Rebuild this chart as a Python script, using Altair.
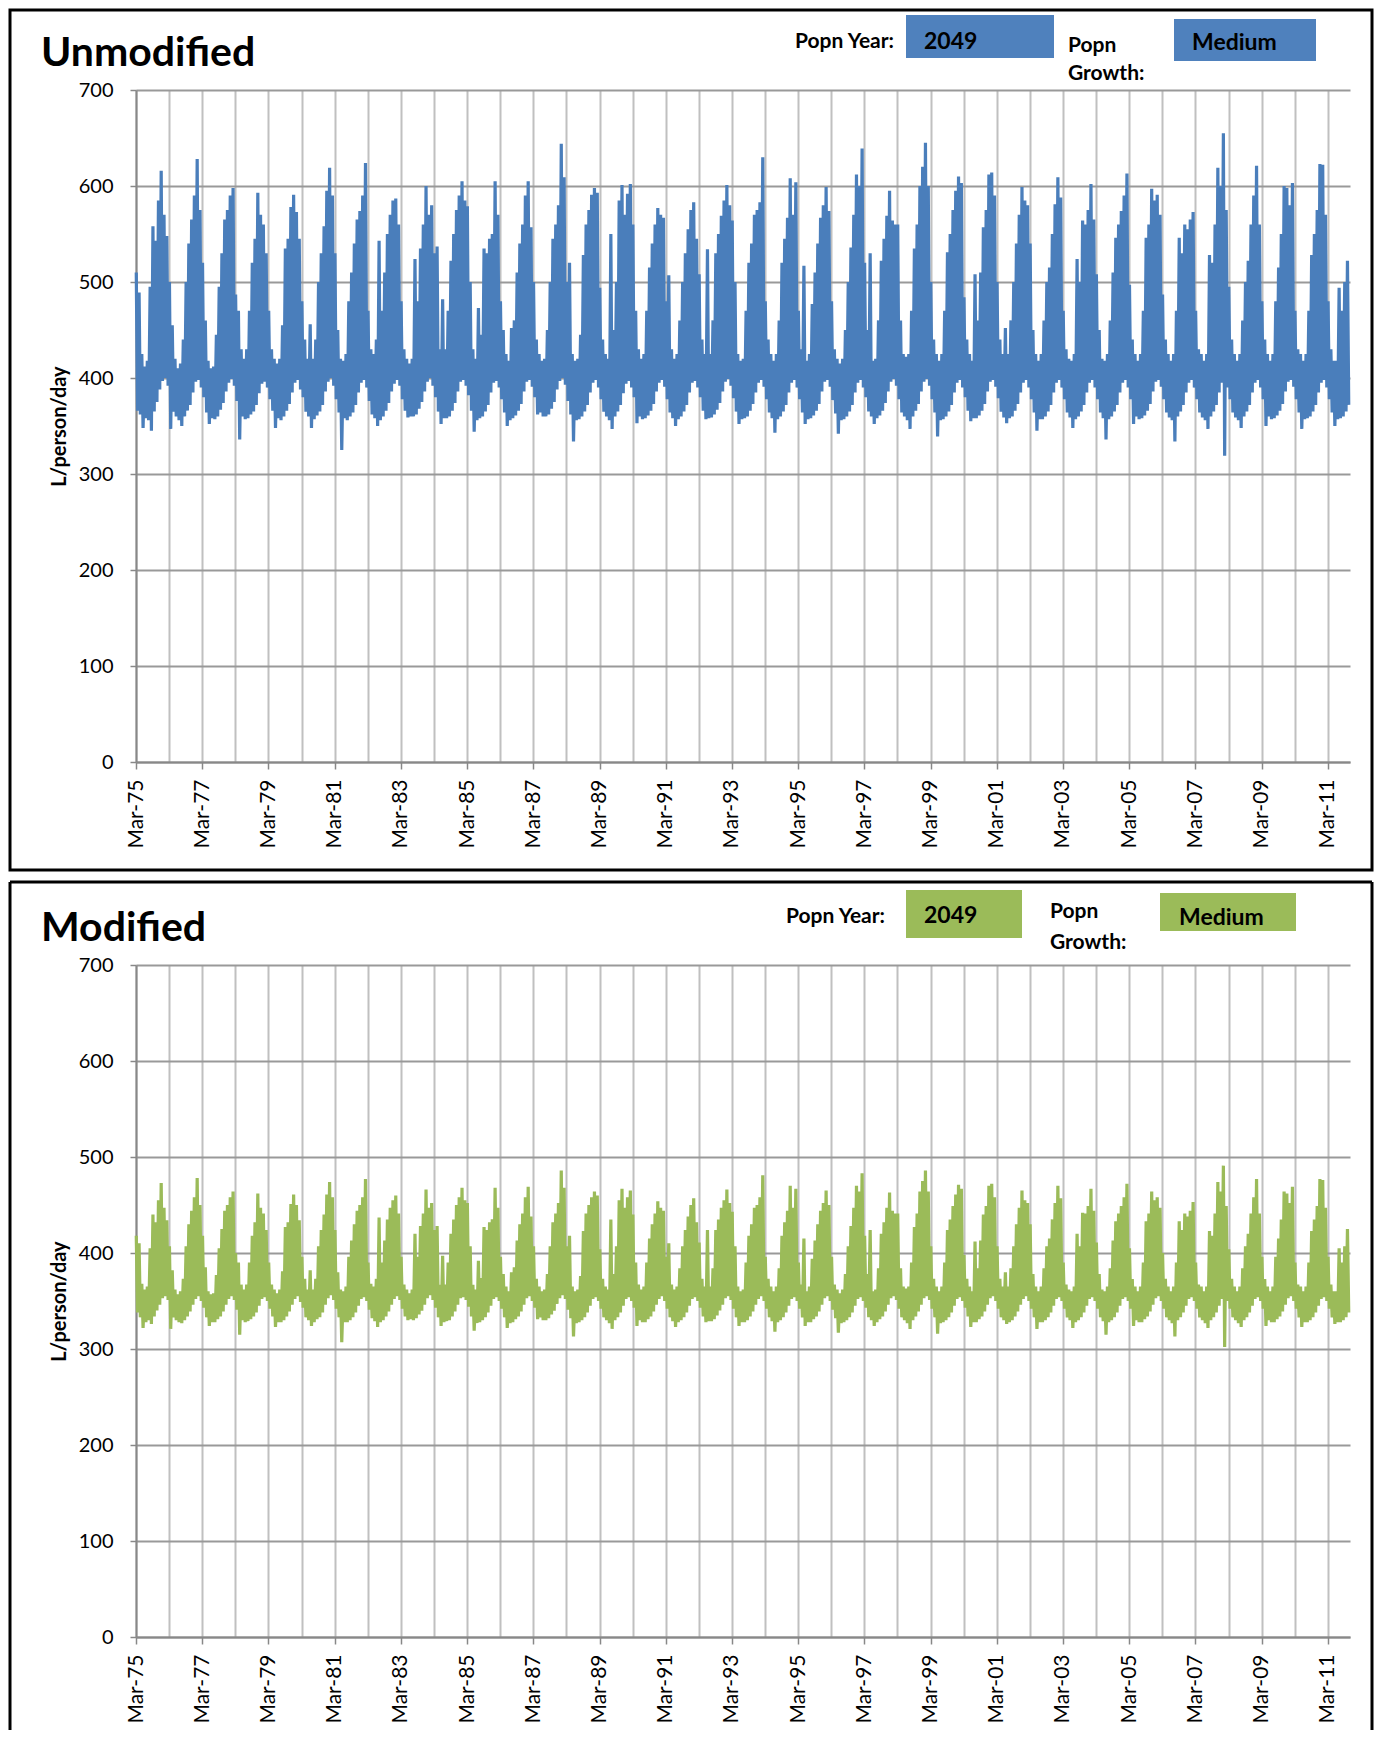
import altair as alt
import pandas as pd

FONT = "Lato"
BLUE = "#4A7EBB"
BLUE_BOX = "#4F81BD"
GREEN = "#9BBB59"

YEARS = list(range(1975, 2012))
Y_TICKS = [0, 100, 200, 300, 400, 500, 600, 700]

# Monthly envelope: each row is one season Mar..Feb
UNMOD_MAX = [
    [510, 489, 425, 412, 418, 495, 558, 543, 585, 616, 570, 548],
    [500, 455, 420, 410, 415, 440, 500, 540, 565, 590, 628, 575],
    [520, 460, 418, 410, 412, 445, 495, 530, 565, 575, 590, 598],
    [487, 470, 430, 420, 430, 470, 520, 545, 593, 570, 560, 530],
    [470, 430, 420, 415, 420, 455, 535, 545, 578, 591, 573, 545],
    [480, 440, 420, 456, 420, 440, 500, 530, 558, 595, 619, 590],
    [530, 450, 420, 418, 425, 480, 510, 540, 565, 574, 590, 624],
    [470, 430, 425, 440, 543, 470, 510, 550, 570, 585, 587, 560],
    [480, 430, 420, 415, 420, 524, 480, 535, 560, 600, 570, 580],
    [530, 537, 430, 482, 430, 470, 522, 550, 575, 590, 605, 585],
    [579, 500, 430, 420, 473, 445, 535, 530, 545, 550, 605, 570],
    [480, 450, 425, 418, 452, 460, 510, 540, 560, 590, 605, 557],
    [500, 440, 425, 418, 420, 450, 500, 545, 560, 580, 644, 609],
    [500, 520, 425, 418, 420, 445, 528, 560, 575, 591, 598, 593],
    [494, 440, 425, 420, 550, 450, 500, 585, 601, 570, 592, 602],
    [560, 470, 430, 420, 425, 470, 515, 540, 560, 577, 570, 567],
    [480, 507, 430, 420, 425, 460, 500, 530, 555, 575, 583, 545],
    [508, 440, 425, 534, 425, 460, 530, 550, 569, 585, 601, 580],
    [564, 500, 425, 418, 420, 470, 520, 540, 570, 575, 583, 630],
    [480, 440, 425, 418, 425, 460, 520, 545, 567, 608, 570, 604],
    [470, 430, 517, 418, 425, 477, 510, 540, 567, 580, 599, 574],
    [480, 430, 420, 415, 420, 450, 500, 536, 570, 612, 600, 639],
    [520, 450, 530, 418, 420, 460, 522, 545, 569, 595, 564, 560],
    [560, 460, 425, 422, 425, 470, 535, 560, 600, 620, 645, 600],
    [500, 440, 425, 418, 425, 470, 531, 550, 575, 595, 610, 603],
    [484, 440, 425, 418, 508, 460, 510, 557, 575, 612, 614, 590],
    [500, 440, 425, 452, 425, 460, 500, 540, 570, 599, 585, 580],
    [540, 450, 425, 418, 425, 460, 500, 515, 550, 581, 609, 588],
    [470, 430, 420, 418, 425, 524, 500, 564, 560, 575, 602, 565],
    [508, 450, 420, 418, 425, 460, 510, 546, 560, 574, 590, 613],
    [497, 440, 425, 418, 425, 470, 546, 560, 597, 585, 591, 570],
    [487, 440, 425, 418, 425, 470, 546, 530, 560, 555, 565, 573],
    [470, 430, 425, 418, 425, 528, 520, 560, 619, 600, 655, 575],
    [495, 440, 425, 418, 425, 460, 500, 522, 560, 590, 621, 560],
    [480, 440, 425, 418, 425, 480, 515, 550, 600, 598, 580, 603],
    [470, 430, 425, 418, 425, 470, 528, 550, 575, 623, 622, 570],
    [480, 430, 418, 418, 494, 470, 500, 522],
]
UNMOD_MIN = [
    [366, 362, 348, 358, 356, 345, 365, 375, 388, 397, 400, 392],
    [347, 365, 360, 356, 350, 360, 366, 372, 385, 396, 398, 390],
    [380, 364, 352, 358, 357, 360, 367, 374, 386, 395, 399, 392],
    [376, 336, 360, 357, 358, 362, 365, 372, 384, 394, 396, 390],
    [378, 366, 348, 358, 356, 360, 366, 373, 385, 395, 398, 388],
    [380, 365, 360, 348, 357, 361, 365, 372, 386, 396, 400, 392],
    [378, 364, 325, 358, 356, 360, 364, 372, 385, 395, 398, 390],
    [376, 362, 358, 350, 356, 360, 366, 374, 386, 394, 398, 392],
    [378, 366, 359, 360, 360, 362, 368, 375, 386, 396, 400, 392],
    [380, 365, 352, 358, 358, 360, 366, 374, 386, 396, 398, 392],
    [382, 366, 344, 356, 358, 360, 365, 372, 385, 395, 397, 390],
    [378, 364, 350, 356, 358, 361, 366, 373, 386, 396, 398, 391],
    [380, 362, 364, 360, 360, 362, 368, 375, 388, 397, 400, 393],
    [376, 362, 334, 356, 357, 360, 365, 372, 385, 395, 398, 390],
    [378, 365, 360, 356, 347, 360, 365, 372, 384, 394, 397, 390],
    [380, 353, 360, 357, 358, 361, 366, 373, 386, 395, 398, 391],
    [378, 364, 358, 350, 357, 360, 365, 372, 385, 395, 397, 390],
    [380, 366, 357, 358, 359, 362, 367, 374, 386, 396, 399, 392],
    [379, 365, 352, 357, 358, 360, 366, 373, 385, 395, 398, 391],
    [378, 364, 358, 343, 357, 360, 365, 372, 385, 395, 398, 390],
    [378, 364, 352, 357, 358, 361, 366, 373, 386, 396, 398, 391],
    [377, 363, 342, 356, 357, 360, 365, 372, 385, 395, 398, 390],
    [380, 365, 360, 352, 358, 361, 366, 374, 386, 396, 399, 392],
    [378, 364, 360, 356, 347, 360, 366, 373, 386, 396, 399, 392],
    [378, 364, 339, 356, 357, 360, 365, 372, 385, 395, 398, 390],
    [380, 366, 355, 358, 358, 361, 366, 373, 386, 396, 398, 391],
    [379, 365, 359, 353, 358, 360, 366, 373, 385, 395, 398, 390],
    [378, 364, 345, 357, 357, 360, 365, 372, 385, 395, 398, 390],
    [378, 364, 359, 348, 357, 360, 365, 372, 385, 395, 398, 390],
    [378, 364, 358, 336, 357, 360, 365, 372, 385, 395, 398, 390],
    [378, 352, 360, 357, 358, 361, 366, 373, 386, 396, 398, 391],
    [378, 364, 359, 356, 334, 360, 365, 372, 385, 395, 398, 390],
    [378, 364, 359, 356, 347, 360, 365, 372, 385, 395, 319, 390],
    [378, 364, 359, 356, 348, 360, 365, 372, 385, 395, 398, 390],
    [378, 350, 360, 357, 358, 361, 366, 373, 386, 396, 398, 391],
    [378, 364, 347, 357, 358, 360, 365, 372, 385, 395, 398, 390],
    [378, 364, 350, 357, 358, 360, 365, 372],
]
MOD_MAX = [
    [418, 410, 368, 362, 365, 405, 440, 432, 455, 473, 447, 434],
    [407, 382, 362, 357, 360, 373, 407, 430, 444, 458, 478, 450],
    [418, 385, 360, 357, 358, 377, 405, 425, 444, 450, 458, 464],
    [400, 390, 367, 362, 367, 390, 418, 432, 462, 447, 441, 424],
    [390, 367, 362, 358, 362, 381, 427, 432, 451, 461, 450, 434],
    [396, 373, 362, 382, 362, 373, 407, 424, 440, 461, 474, 458],
    [424, 380, 362, 360, 365, 396, 413, 430, 444, 450, 458, 477],
    [390, 368, 365, 373, 437, 390, 413, 435, 447, 455, 460, 441],
    [396, 367, 362, 358, 362, 420, 396, 428, 441, 466, 447, 452],
    [424, 428, 367, 397, 367, 390, 420, 435, 450, 458, 468, 455],
    [452, 407, 367, 362, 392, 374, 427, 424, 432, 435, 468, 447],
    [396, 378, 365, 360, 380, 385, 413, 430, 441, 458, 469, 438],
    [407, 373, 365, 360, 362, 378, 407, 432, 441, 452, 486, 468],
    [407, 418, 365, 360, 362, 376, 423, 441, 450, 458, 464, 460],
    [404, 373, 365, 362, 435, 378, 407, 455, 467, 447, 458, 465],
    [440, 390, 367, 362, 365, 390, 415, 430, 441, 454, 447, 444],
    [396, 410, 367, 362, 365, 384, 407, 424, 438, 450, 457, 432],
    [411, 373, 365, 424, 365, 384, 424, 435, 447, 455, 466, 452],
    [443, 407, 365, 360, 362, 390, 418, 430, 447, 450, 458, 481],
    [396, 373, 365, 360, 365, 384, 418, 432, 444, 470, 447, 467],
    [390, 367, 415, 360, 365, 394, 413, 430, 444, 452, 465, 450],
    [396, 367, 362, 358, 362, 378, 407, 428, 447, 470, 464, 483],
    [418, 378, 424, 360, 362, 384, 420, 432, 447, 463, 444, 441],
    [441, 384, 365, 363, 365, 390, 427, 441, 464, 475, 486, 464],
    [407, 373, 365, 360, 365, 390, 424, 435, 449, 461, 471, 467],
    [398, 373, 365, 360, 412, 384, 413, 440, 449, 470, 472, 458],
    [407, 373, 365, 380, 365, 384, 407, 430, 447, 465, 455, 452],
    [430, 378, 365, 360, 365, 384, 407, 415, 435, 452, 470, 457],
    [390, 367, 362, 360, 365, 420, 407, 442, 441, 449, 467, 444],
    [411, 378, 362, 360, 365, 384, 413, 433, 441, 449, 458, 472],
    [405, 373, 365, 360, 365, 390, 433, 441, 464, 455, 458, 447],
    [400, 373, 365, 360, 365, 390, 433, 424, 441, 438, 444, 453],
    [390, 367, 365, 360, 365, 423, 418, 441, 474, 464, 491, 449],
    [404, 373, 365, 360, 365, 384, 407, 420, 441, 458, 477, 441],
    [396, 373, 365, 360, 365, 396, 415, 435, 464, 462, 452, 469],
    [390, 367, 365, 360, 365, 390, 423, 435, 449, 477, 476, 447],
    [396, 367, 360, 360, 405, 390, 407, 425],
]
MOD_MIN = [
    [338, 333, 322, 328, 330, 326, 334, 340, 346, 353, 355, 351],
    [321, 333, 330, 328, 327, 330, 334, 339, 346, 352, 355, 350],
    [343, 333, 324, 328, 328, 331, 334, 339, 346, 352, 355, 351],
    [341, 315, 330, 328, 329, 331, 334, 338, 345, 352, 354, 350],
    [342, 334, 323, 328, 328, 330, 334, 339, 346, 352, 355, 349],
    [343, 333, 330, 324, 328, 331, 333, 338, 346, 353, 356, 351],
    [342, 333, 307, 328, 328, 330, 333, 338, 345, 352, 354, 350],
    [341, 332, 329, 323, 328, 330, 334, 339, 346, 352, 355, 351],
    [342, 334, 330, 331, 330, 332, 336, 340, 346, 353, 356, 351],
    [343, 333, 324, 328, 329, 330, 334, 339, 346, 353, 354, 351],
    [344, 334, 319, 327, 328, 330, 333, 338, 345, 352, 354, 350],
    [342, 333, 322, 327, 328, 331, 334, 339, 346, 353, 355, 350],
    [343, 331, 333, 330, 330, 332, 336, 340, 347, 353, 356, 352],
    [341, 332, 313, 327, 328, 330, 333, 338, 345, 352, 354, 350],
    [342, 333, 330, 327, 321, 330, 333, 338, 345, 352, 354, 350],
    [343, 324, 330, 328, 328, 331, 334, 339, 346, 352, 355, 350],
    [342, 333, 329, 323, 328, 330, 333, 338, 345, 352, 354, 350],
    [343, 334, 328, 329, 329, 331, 335, 340, 346, 353, 355, 351],
    [342, 333, 324, 328, 328, 330, 334, 339, 346, 352, 355, 350],
    [342, 333, 329, 318, 328, 330, 333, 338, 345, 352, 354, 350],
    [342, 333, 324, 328, 328, 331, 334, 339, 346, 353, 355, 350],
    [341, 332, 317, 327, 328, 330, 333, 338, 345, 352, 354, 350],
    [343, 333, 330, 324, 328, 331, 334, 339, 346, 353, 355, 351],
    [342, 333, 330, 327, 321, 330, 334, 339, 346, 353, 355, 351],
    [342, 333, 316, 327, 328, 330, 333, 338, 345, 352, 354, 350],
    [343, 334, 323, 328, 328, 331, 334, 339, 346, 353, 355, 350],
    [342, 333, 330, 326, 328, 330, 334, 339, 346, 352, 355, 350],
    [342, 333, 321, 328, 328, 330, 333, 338, 345, 352, 354, 350],
    [342, 333, 330, 322, 328, 330, 333, 338, 345, 352, 354, 350],
    [342, 333, 329, 315, 328, 330, 333, 338, 345, 352, 354, 350],
    [342, 324, 330, 328, 328, 331, 334, 339, 346, 353, 355, 350],
    [342, 333, 330, 327, 313, 330, 333, 338, 345, 352, 354, 350],
    [342, 333, 330, 327, 322, 330, 333, 338, 345, 352, 302, 350],
    [342, 333, 330, 327, 323, 330, 333, 338, 345, 352, 354, 350],
    [342, 324, 330, 328, 328, 331, 334, 339, 346, 353, 355, 350],
    [342, 333, 323, 328, 328, 330, 333, 338, 345, 352, 354, 350],
    [342, 333, 326, 328, 328, 330, 333, 338],
]


def series(max_rows, min_rows):
    highs = [v for row in max_rows for v in row]
    lows = [v for row in min_rows for v in row]
    recs = []
    for i, (hi, lo) in enumerate(zip(highs, lows)):
        mi = 2 + i
        yr = 1975 + mi // 12
        mo = mi % 12 + 1
        recs.append({"date": f"{yr}/{mo:02d}/04", "v": hi})
        recs.append({"date": f"{yr}/{mo:02d}/18", "v": lo})
    return pd.DataFrame(recs)


ODD = "year(datum.value) % 2 == 1"


def x_enc():
    return alt.X(
        "date:T",
        scale=alt.Scale(domain=[alt.DateTime(year=1975, month=3, date=1),
                                alt.DateTime(year=2011, month=11, date=1)]),
        axis=alt.Axis(
            values=[alt.DateTime(year=y, month=3, date=1) for y in YEARS],
            labelExpr=ODD + " ? timeFormat(datum.value, '%b-%y') : ''",
            labelAngle=270, labelFontSize=21, labelColor="#000", labelPadding=10,
            labelOverlap=False, labelFont=FONT,
            tickSize=7, tickColor="#888", tickWidth=1.5,
            tickOpacity={"condition": {"test": ODD, "value": 1}, "value": 0},
            gridColor="#C0C0C0", gridWidth=2, domainColor="#888", domainWidth=2,
            title="",
        ),
    )


def y_enc():
    return alt.Y(
        "v:Q",
        scale=alt.Scale(domain=[0, 700], nice=False),
        axis=alt.Axis(
            values=Y_TICKS, title="L/person/day", titleFont=FONT, titleFontSize=20,
            titleFontWeight="bold", titleColor="#000", titlePadding=9,
            labelFont=FONT, labelFontSize=20, labelColor="#000", labelPadding=17,
            tickSize=6, tickColor="#888", tickWidth=1.5,
            gridColor="#999", gridWidth=2, domainColor="#888", domainWidth=2,
        ),
    )


ONE = alt.Data(values=[{"k": 1}])


def text(t, x, y, size, align="left", weight="bold"):
    return alt.Chart(ONE).mark_text(
        text=t, align=align, baseline="middle", font=FONT, fontSize=size,
        fontWeight=weight, color="#000",
    ).encode(x=alt.value(x), y=alt.value(y))


def box(x, x2, y, y2, color):
    return alt.Chart(ONE).mark_rect(color=color).encode(
        x=alt.value(x), x2=alt.value(x2), y=alt.value(y), y2=alt.value(y2))


def rule(x, x2, y, y2):
    return alt.Chart(ONE).mark_rule(color="#000", strokeWidth=3).encode(
        x=alt.value(x), x2=alt.value(x2), y=alt.value(y), y2=alt.value(y2))


def panel(df, color, box_color, title, lay, full_frame):
    line = alt.Chart(df).mark_line(color=color, strokeWidth=3.2).encode(
        x=x_enc(), y=y_enc())
    if full_frame:
        frame = [alt.Chart(ONE).mark_rect(filled=False, stroke="#000", strokeWidth=3).encode(
            x=alt.value(-126), x2=alt.value(1236), y=alt.value(-80), y2=alt.value(780))]
    else:
        frame = [rule(-126, 1236, -83, -83), rule(-126, -126, -83, 765),
                 rule(1236, 1236, -83, 765)]
    parts = frame + [
        line,
        text(title, -95, -36, 41),
        text("Popn Year:", lay["py_x"], -48, 21, align="right"),
        box(lay["b1"][0], lay["b1"][1], lay["b1"][2], lay["b1"][3], box_color),
        text("2049", 788, lay["n_y"], 23),
        text("Popn", lay["pg_x"], lay["p_y"], 21),
        text("Growth:", lay["pg_x"], lay["g_y"], 21),
        box(lay["b2"][0], lay["b2"][1], lay["b2"][2], lay["b2"][3], box_color),
        text("Medium", lay["m_x"], -47, 23),
    ]
    return alt.layer(*parts).properties(width=1214, height=672)


top = panel(series(UNMOD_MAX, UNMOD_MIN), BLUE, BLUE_BOX, "Unmodified",
            {"py_x": 758, "b1": (770, 918, -75, -32), "n_y": -48, "pg_x": 932,
             "p_y": -44, "g_y": -16, "b2": (1038, 1180, -71, -29), "m_x": 1056},
            True)
bottom = panel(series(MOD_MAX, MOD_MIN), GREEN, GREEN, "Modified",
               {"py_x": 749, "b1": (770, 886, -75, -27), "n_y": -49, "pg_x": 914,
                "p_y": -53, "g_y": -22, "b2": (1024, 1160, -72, -34), "m_x": 1043},
               False)

chart = alt.vconcat(top, bottom, spacing=203, bounds="flush").properties(
    padding=0
).configure(font=FONT).configure_view(strokeWidth=0)

chart.save("out.html", embed_options={"renderer": "svg", "actions": False})
